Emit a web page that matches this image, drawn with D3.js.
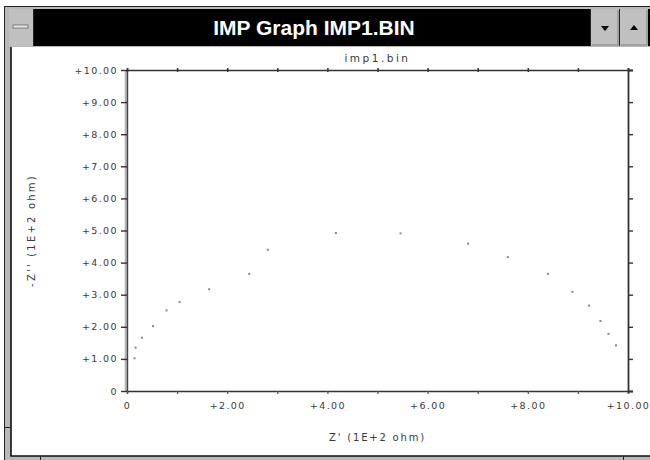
<!DOCTYPE html>
<html><head><meta charset="utf-8">
<script src="https://cdn.jsdelivr.net/npm/d3@7"></script>
<style>
html,body{margin:0;padding:0;background:#fff;}
svg{display:block;}
text{font-family:"DejaVu Sans",sans-serif;}
</style></head>
<body>
<svg id="chart" width="650" height="460"></svg>
<script>
// ---- data ----
const windowTitle = "IMP Graph IMP1.BIN";
const chartTitle = "imp1.bin";
const xAxisTitle = "Z' (1E+2 ohm)";
const yAxisTitle = "-Z'' (1E+2 ohm)";
const zReal = [0.15, 0.17, 0.30, 0.52, 0.79, 1.05, 1.64, 2.44, 2.81, 4.17, 5.46, 6.81, 7.60, 8.40, 8.89, 9.22, 9.45, 9.61, 9.76];
const zImag = [1.02, 1.35, 1.66, 2.02, 2.51, 2.77, 3.17, 3.65, 4.40, 4.92, 4.91, 4.59, 4.17, 3.65, 3.09, 2.66, 2.18, 1.78, 1.42];
const xTickValues = [0,1,2,3,4,5,6,7,8,9,10];
const xLabelValues = [0,2,4,6,8,10];
const yTickValues = [0,1,2,3,4,5,6,7,8,9,10];
const fmt = v => v === 0 ? "0" : "+" + v.toFixed(2);

const svg = d3.select("#chart");

// ---- window chrome ----
svg.append("rect").attr("x",4).attr("y",6).attr("width",660).attr("height",460).attr("fill","#b8b8b8");
svg.append("rect").attr("x",4.5).attr("y",6.5).attr("width",660).attr("height",460).attr("fill","none").attr("stroke","#222");
// title bar
svg.append("rect").attr("x",9).attr("y",9).attr("width",650).attr("height",37).attr("fill","#000");
// client
svg.append("rect").attr("x",11).attr("y",47).attr("width",650).attr("height",409).attr("fill","#fff");
svg.append("path").attr("d","M11,47 V456 H660").attr("fill","none").attr("stroke","#111").attr("stroke-width",1.6);
// border marks
svg.append("line").attr("x1",4).attr("x2",10).attr("y1",427.5).attr("y2",427.5).attr("stroke","#222");
svg.append("line").attr("x1",40.5).attr("x2",40.5).attr("y1",456).attr("y2",460).attr("stroke","#222");
svg.append("line").attr("x1",623.5).attr("x2",623.5).attr("y1",456).attr("y2",460).attr("stroke","#222");
// system menu button
svg.append("rect").attr("x",9).attr("y",9).attr("width",24).attr("height",37).attr("fill","#c0c0c0");
svg.append("line").attr("x1",33.5).attr("x2",33.5).attr("y1",9).attr("y2",46).attr("stroke","#222");
svg.append("rect").attr("x",13).attr("y",25).attr("width",15).attr("height",3).attr("fill","#e8e8e8").attr("stroke","#666").attr("stroke-width",0.8);
// min/max buttons
[[591,"down"],[620,"up"]].forEach(([bx,dir])=>{
  svg.append("rect").attr("x",bx).attr("y",9).attr("width",28).attr("height",37).attr("fill","#c0c0c0");
  svg.append("line").attr("x1",bx-0.5).attr("x2",bx-0.5).attr("y1",9).attr("y2",46).attr("stroke","#222");
  svg.append("path").attr("d","M"+(bx+1)+",45 H"+(bx+27)+" V10").attr("fill","none").attr("stroke","#808080");
  const cx = bx+14, cy = 28;
  const d = dir==="down" ? `M${cx-4},${cy-2} L${cx+4},${cy-2} L${cx},${cy+3} Z` : `M${cx-4},${cy+2} L${cx+4},${cy+2} L${cx},${cy-3} Z`;
  svg.append("path").attr("d",d).attr("fill","#000");
});
svg.append("text").attr("x",314).attr("y",35).attr("text-anchor","middle")
  .attr("fill","#fff").style("font-family","'Liberation Sans',Arial,sans-serif")
  .style("font-weight","bold").style("font-size","21px").text(windowTitle);

// ---- plot ----
const x = d3.scaleLinear().domain([0,10]).range([127,628]);
const y = d3.scaleLinear().domain([0,10]).range([391,70]);
const tickFont = g => g.selectAll("text").attr("fill","#3a3a3a").style("font-size","9.5px").style("letter-spacing","1.4px");

// left axis (gray thick line)
svg.append("line").attr("x1",x(0)-0.5).attr("x2",x(0)-0.5).attr("y1",y(10)).attr("y2",y(0)).attr("stroke","#b0b0b0").attr("stroke-width",3.5);
const gL = svg.append("g").attr("transform",`translate(${x(0)},0)`)
  .call(d3.axisLeft(y).tickValues(yTickValues).tickSize(6).tickPadding(3).tickFormat(fmt));
gL.select(".domain").attr("stroke","#444").attr("stroke-width",1.2);
gL.selectAll(".tick line").attr("stroke","#333").attr("stroke-width",1.4);
tickFont(gL);

// bottom axis
const gB = svg.append("g").attr("transform",`translate(0,${y(0)})`)
  .call(d3.axisBottom(x).tickValues(xTickValues).tickSize(3).tickPadding(8)
    .tickFormat(v => xLabelValues.includes(v) ? fmt(v) : ""));
gB.select(".domain").attr("stroke","#333").attr("stroke-width",1.5);
gB.selectAll(".tick line").attr("stroke","#555").attr("stroke-width",1.2);
tickFont(gB);

// top axis
const gT = svg.append("g").attr("transform",`translate(0,${y(10)})`)
  .call(d3.axisTop(x).tickValues(xTickValues).tickSize(2).tickFormat(""));
gT.select(".domain").attr("stroke","#333").attr("stroke-width",1.5);
gT.selectAll(".tick line").attr("stroke","#333").attr("stroke-width",1.5).attr("y2",2).attr("y1",-2);

// right axis
const gR = svg.append("g").attr("transform",`translate(${x(10)},0)`)
  .call(d3.axisRight(y).tickValues(yTickValues).tickSize(5).tickFormat(""));
gR.select(".domain").attr("stroke","#333").attr("stroke-width",1.8);
gR.selectAll(".tick line").attr("stroke","#333").attr("stroke-width",1.4);

// points
svg.append("g").selectAll("rect").data(zReal).join("rect")
  .attr("x",(d,i)=>x(d)-1).attr("y",(d,i)=>y(zImag[i])-1)
  .attr("width",2).attr("height",2).attr("fill","#888");

// titles
svg.append("text").attr("x",(x(0)+x(10))/2).attr("y",62).attr("text-anchor","middle")
  .attr("fill","#3a3a3a").style("font-size","10.5px").style("letter-spacing","2.5px").text(chartTitle);
svg.append("text").attr("x",(x(0)+x(10))/2).attr("y",441).attr("text-anchor","middle")
  .attr("fill","#3a3a3a").style("font-size","10px").style("letter-spacing","1.8px").text(xAxisTitle);
svg.append("text").attr("transform",`translate(35,${(y(0)+y(10))/2}) rotate(-90)`).attr("text-anchor","middle")
  .attr("fill","#3a3a3a").style("font-size","10px").style("letter-spacing","2.2px").text(yAxisTitle);
</script>
</body></html>
